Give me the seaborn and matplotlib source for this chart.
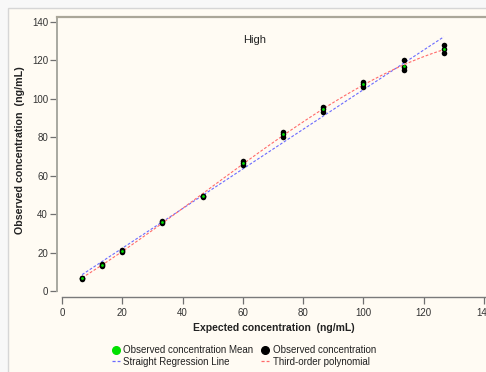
import numpy as np
import pandas as pd
import matplotlib
matplotlib.use("Agg")
import matplotlib.pyplot as plt
from matplotlib.patches import Rectangle
from matplotlib.lines import Line2D
import seaborn as sns

# ---- data ----
expected_levels = [6.67, 13.33, 20.0, 33.33, 46.67, 60.0, 73.33, 86.67, 100.0, 113.33, 126.67]
rep1 = [6.5, 13.0, 20.3, 35.6, 49.0, 65.5, 80.2, 93.0, 106.0, 115.0, 123.8]
rep2 = [6.8, 13.6, 20.8, 35.9, 49.3, 66.5, 81.5, 94.5, 107.5, 116.5, 126.0]
rep3 = [7.0, 14.3, 21.2, 36.2, 49.6, 67.6, 83.0, 96.0, 109.0, 120.0, 127.8]
x_ticks = [0, 20, 40, 60, 80, 100, 120, 140]
y_ticks = [0, 20, 40, 60, 80, 100, 120, 140]

obs = pd.DataFrame({
    "expected": expected_levels * 3,
    "observed": rep1 + rep2 + rep3,
})
means = obs.groupby("expected", as_index=False)["observed"].mean()

sns.set_theme(style="white")
plt.rcParams["font.family"] = ["Liberation Sans", "DejaVu Sans"]

W, H = 486, 372
fig = plt.figure(figsize=(W / 100, H / 100), dpi=100)
fig.patch.set_facecolor("#f8f8f8")
cream = "#fffbf3"
bg = Rectangle((8 / W, -0.01), 1.0, 1 - 8 / H + 0.01, transform=fig.transFigure,
               facecolor=cream, edgecolor="#d6d6d6", linewidth=1.0, zorder=-10)
fig.patches.append(bg)

ax = fig.add_axes([57 / W, 1 - 297 / H, (486 - 57) / W, (297 - 17) / H])
ax.set_facecolor(cream)
ax.set_zorder(1)

blue = "#6a6aff"
red = "#ff6a6a"
dash = (0, (2.5, 1.6))

sns.regplot(data=obs, x="expected", y="observed", ax=ax, scatter=False, ci=None, truncate=True,
            line_kws=dict(color=blue, lw=0.8, ls=dash, zorder=3))
sns.regplot(data=obs, x="expected", y="observed", ax=ax, scatter=False, ci=None, order=3, truncate=True,
            line_kws=dict(color=red, lw=0.8, ls=dash, zorder=3))
sns.scatterplot(data=obs, x="expected", y="observed", ax=ax, color="black", s=16,
                linewidth=0, zorder=4, legend=False)
sns.scatterplot(data=means, x="expected", y="observed", ax=ax, color="#00e000", s=4,
                linewidth=0, zorder=5, legend=False)

ax.set_xlim((57 - 62) / 3.014, (486 - 62) / 3.014)
ax.set_ylim((291 - 297) / 1.921, (291 - 17) / 1.921)
ax.set_xticks(x_ticks)
ax.set_yticks(y_ticks)
ax.set_xlabel("")
ax.set_ylabel("")

for s in ["left", "bottom", "top"]:
    ax.spines[s].set_visible(True)
ax.spines["right"].set_visible(False)
ax.spines["top"].set_color("#aaa698")
ax.spines["top"].set_linewidth(1.6)
ax.spines["left"].set_color("#a8a8a0")
ax.spines["left"].set_linewidth(1.4)
ax.spines["left"].set_bounds(0, (291 - 17) / 1.921)
ax.spines["bottom"].set_color("#7a7a7a")
ax.spines["bottom"].set_linewidth(1.0)
ax.spines["bottom"].set_bounds(0, (486 - 62) / 3.014)

ax.tick_params(axis="both", direction="out", length=5, width=0.9, color="#707070",
               labelsize=7, labelcolor="#333333")
ax.tick_params(axis="y", pad=1.5, left=True)
ax.tick_params(axis="x", pad=3, bottom=True)

ax.text(64, 130.5, "High", ha="center", va="center", fontsize=8, color="#222222")

fig.text(274 / W, 1 - 328 / H, "Expected concentration  (ng/mL)", ha="center", va="center",
         fontsize=7.5, fontweight="bold", color="#222222")
fig.text(20 / W, 1 - 150 / H, "Observed concentration  (ng/mL)", ha="center", va="center",
         rotation=90, fontsize=7.7, fontweight="bold", color="#222222")

handles = [
    Line2D([], [], marker="o", ls="", color="#00e000", markersize=5.5),
    Line2D([], [], color=blue, lw=0.9, ls=dash),
    Line2D([], [], marker="o", ls="", color="black", markersize=5.5),
    Line2D([], [], color=red, lw=0.9, ls=dash),
]
labels = ["Observed concentration Mean", "Straight Regression Line",
          "Observed concentration", "Third-order polynomial"]
leg = fig.legend(handles, labels, ncol=2, loc="center", bbox_to_anchor=(244 / W, 1 - 356 / H),
                 frameon=False, fontsize=7, handlelength=0.8, handletextpad=0.35,
                 columnspacing=0.8, labelspacing=0.15, borderpad=0)
for t in leg.get_texts():
    t.set_color("#222222")

fig.savefig("out.png", dpi=100, facecolor=fig.get_facecolor())
